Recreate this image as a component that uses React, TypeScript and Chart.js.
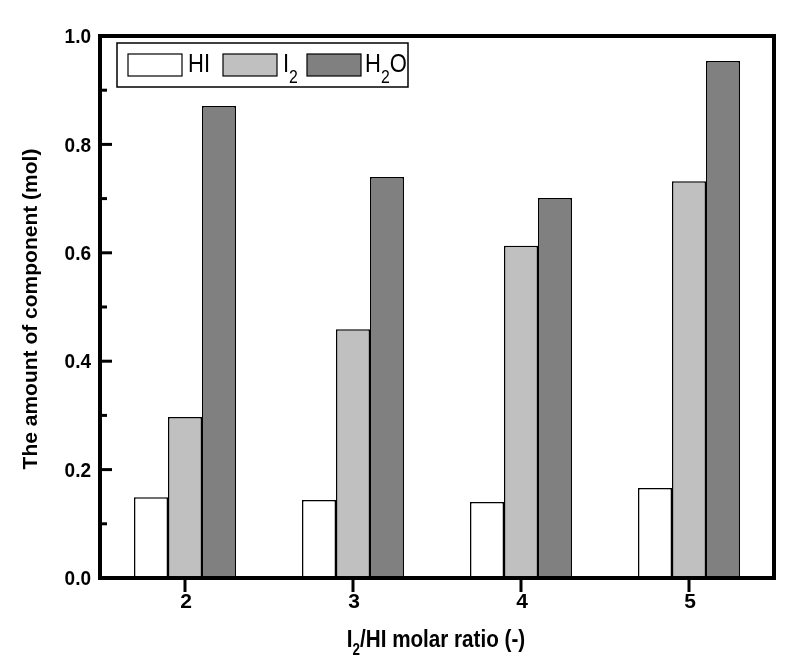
import { useEffect, useRef } from 'react';
import { Chart, registerables } from 'chart.js';

Chart.register(...registerables);

const categories = ['2', '3', '4', '5'];
const hiValues = [0.149, 0.144, 0.140, 0.166];
const i2Values = [0.297, 0.459, 0.613, 0.732];
const h2oValues = [0.871, 0.740, 0.701, 0.954];
const yMin = 0;
const yMax = 1.0;
const yStep = 0.1;
const seriesLabels = ['HI', 'I2', 'H2O'];
const seriesColors = ['#FFFFFF', '#C0C0C0', '#808080'];

type Part = { t: string; sub?: boolean };

const legendParts: Part[][] = [
  [{ t: 'H' }, { t: 'I' }],
  [{ t: 'I' }, { t: '2', sub: true }],
  [{ t: 'H' }, { t: '2', sub: true }, { t: 'O' }],
];
const xTitleParts: Part[] = [{ t: 'I' }, { t: '2', sub: true }, { t: '/HI molar ratio (-)' }];
const yTitleParts: Part[] = [{ t: 'The amount of component (mol)' }];

const FAMILY = '"Liberation Sans", Arial, sans-serif';

function drawRich(
  ctx: CanvasRenderingContext2D,
  parts: Part[],
  x: number,
  y: number,
  size: number,
  bold: boolean,
  sx: number,
  align: 'left' | 'center' | 'right',
  subOffset = 0.33,
  subScale = 0.65
) {
  const subSize = size * subScale;
  const font = (s: number) => `${bold ? 'bold ' : ''}${s}px ${FAMILY}`;
  let w = 0;
  for (const p of parts) {
    ctx.font = font(p.sub ? subSize : size);
    w += ctx.measureText(p.t).width;
  }
  ctx.save();
  ctx.translate(x, y);
  ctx.scale(sx, 1);
  let cx = align === 'center' ? -w / 2 : align === 'right' ? -w : 0;
  ctx.textAlign = 'left';
  ctx.textBaseline = 'alphabetic';
  ctx.fillStyle = '#000';
  for (const p of parts) {
    ctx.font = font(p.sub ? subSize : size);
    ctx.fillText(p.t, cx, p.sub ? size * subOffset : 0);
    cx += ctx.measureText(p.t).width;
  }
  ctx.restore();
}

const decorPlugin = {
  id: 'decor',
  afterDatasetsDraw(chart: any) {
    const ctx: CanvasRenderingContext2D = chart.ctx;
    const { left, right, top, bottom } = chart.chartArea;
    const xs = chart.scales.x;
    const ys = chart.scales.y;
    ctx.save();

    // frame
    ctx.strokeStyle = '#000';
    ctx.lineWidth = 4;
    ctx.strokeRect(left - 1, top, right - left + 2, bottom - top);

    // y ticks (inward) + labels
    ctx.lineWidth = 3;
    const nSteps = Math.round((yMax - yMin) / yStep);
    for (let i = 0; i <= nSteps; i++) {
      const v = yMin + i * yStep;
      const py = ys.getPixelForValue(v);
      const major = i % 2 === 0;
      ctx.beginPath();
      ctx.moveTo(left, py);
      ctx.lineTo(left + (major ? 11 : 6), py);
      ctx.stroke();
      if (major) {
        drawRich(ctx, [{ t: v.toFixed(1) }], left - 10, py + 20 * 0.36, 20, true, 0.95, 'right');
      }
    }

    // x ticks (outward) + labels
    categories.forEach((c, i) => {
      const px = xs.getPixelForValue(i);
      ctx.beginPath();
      ctx.moveTo(px, bottom + 1);
      ctx.lineTo(px, bottom + 14);
      ctx.stroke();
      drawRich(ctx, [{ t: c }], px + 1, bottom + 30, 21, true, 1, 'center');
    });

    // axis titles
    drawRich(ctx, xTitleParts, 436, 647, 24, true, 0.86, 'center');
    ctx.save();
    ctx.translate(37, 309);
    ctx.rotate(-Math.PI / 2);
    drawRich(ctx, yTitleParts, 0, 0, 21, true, 1, 'center');
    ctx.restore();

    // legend
    const lx = left + 16;
    const ly = top + 7;
    ctx.lineWidth = 1.5;
    ctx.strokeStyle = '#000';
    ctx.strokeRect(lx, ly, 291, 44);
    const swatchX = [lx + 11, lx + 106, lx + 190];
    const textX = [lx + 71, lx + 166, lx + 248];
    seriesLabels.forEach((_, i) => {
      ctx.fillStyle = seriesColors[i];
      ctx.fillRect(swatchX[i], ly + 11, 54, 22);
      ctx.lineWidth = 1.2;
      ctx.strokeStyle = '#000';
      ctx.strokeRect(swatchX[i], ly + 11, 54, 22);
      drawRich(ctx, legendParts[i], textX[i], ly + 29, 25, false, 0.88, 'left', 0.42, 0.72);
    });

    ctx.restore();
  },
};

export default function App() {
  const canvasRef = useRef<HTMLCanvasElement | null>(null);

  useEffect(() => {
    const canvas = canvasRef.current;
    if (!canvas) return;
    const chart = new Chart(canvas, {
      type: 'bar',
      data: {
        labels: categories,
        datasets: [hiValues, i2Values, h2oValues].map((vals, i) => ({
          label: seriesLabels[i],
          data: vals,
          backgroundColor: seriesColors[i],
          borderColor: '#000',
          borderWidth: 1.5,
          categoryPercentage: 0.607,
          barPercentage: 1.0,
        })),
      },
      options: {
        responsive: false,
        animation: false,
        devicePixelRatio: 1,
        layout: { padding: { left: 0, right: 31, top: 36, bottom: 0 } },
        plugins: {
          legend: { display: false },
          tooltip: { enabled: false },
          title: { display: false },
        },
        scales: {
          x: {
            type: 'category',
            grid: { display: false, drawTicks: false },
            border: { display: false },
            ticks: { display: false },
            afterFit: (scale: any) => {
              scale.height = 91;
            },
          },
          y: {
            type: 'linear',
            min: yMin,
            max: yMax,
            grid: { display: false, drawTicks: false },
            border: { display: false },
            ticks: { display: false, stepSize: yStep },
            afterFit: (scale: any) => {
              scale.width = 101;
            },
          },
        },
      },
      plugins: [decorPlugin],
    });
    return () => chart.destroy();
  }, []);

  return (
    <div style={{ position: 'absolute', left: 0, top: 0, width: 804, height: 669, background: '#fff' }}>
      <canvas ref={canvasRef} width={804} height={669} style={{ display: 'block' }} />
    </div>
  );
}
